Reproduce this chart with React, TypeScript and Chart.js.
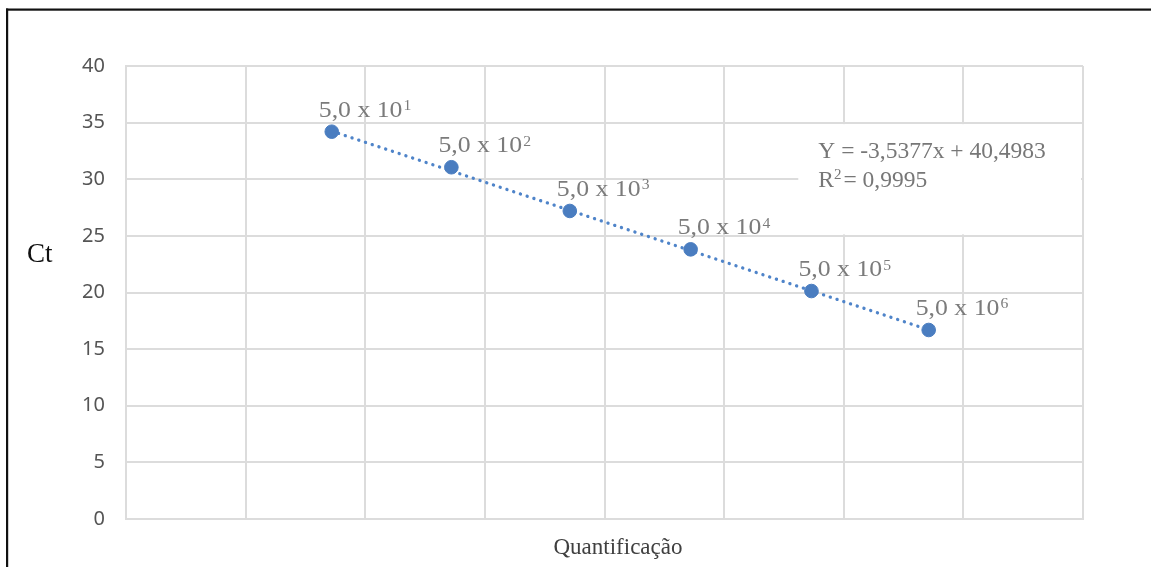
import React, { useEffect, useRef } from "react";
import { Chart, registerables } from "chart.js";

Chart.register(...registerables);

// ---- data ----
const X_VALUES = [1.72, 2.72, 3.71, 4.72, 5.73, 6.71]; // log10 of copies (position on x axis)
const CT_VALUES = [34.2, 31.06, 27.2, 23.81, 20.13, 16.69];
const LABEL_BASE = "5,0 x 10";
const LABEL_EXPONENTS = ["1", "2", "3", "4", "5", "6"];
const TREND_X = [1.72, 6.71];
const TREND_Y = [34.25, 16.7];
const Y_MIN = 0;
const Y_MAX = 40;
const Y_STEP = 5;
const X_MIN = 0;
const X_MAX = 8;
const EQUATION = "Y = -3,5377x + 40,4983";
const R2_VALUE = "0,9995";
const Y_TITLE = "Ct";
const X_TITLE = "Quantificação";

const SERIF = '"Liberation Serif", "Times New Roman", serif';
const BLUE = "#4A7DC0";
const GRID = "#dcdcdc";

const overlay = {
  id: "overlay",
  beforeDatasetsDraw(chart: any) {
    const { ctx, chartArea, scales } = chart;
    const x = scales.x;
    const y = scales.y;
    const left = x.getPixelForValue(5.62);
    const right = chartArea.right - 2;
    const top = y.getPixelForValue(35) + 1.5;
    const bottom = y.getPixelForValue(25) - 1.5;
    ctx.save();
    ctx.fillStyle = "#ffffff";
    ctx.fillRect(left, top, right - left, bottom - top);
    ctx.restore();
  },
  afterDatasetsDraw(chart: any) {
    const { ctx, scales } = chart;
    const x = scales.x;
    const y = scales.y;
    ctx.save();
    ctx.fillStyle = "#7b7b7b";
    ctx.textBaseline = "alphabetic";
    ctx.textAlign = "left";
    X_VALUES.forEach((xv, i) => {
      const px = x.getPixelForValue(xv);
      const py = y.getPixelForValue(CT_VALUES[i]);
      ctx.save();
      ctx.translate(px - 13, py - 15);
      ctx.scale(1.12, 1);
      ctx.font = `23px ${SERIF}`;
      ctx.fillText(LABEL_BASE, 0, 0);
      const w = ctx.measureText(LABEL_BASE).width;
      ctx.font = `14px ${SERIF}`;
      ctx.fillText(LABEL_EXPONENTS[i], w + 1, -6.5);
      ctx.restore();
    });

    // equation text box
    const bx = x.getPixelForValue(5.62) + 20;
    const by = y.getPixelForValue(35) + 1;
    ctx.fillStyle = "#777777";
    ctx.font = `23.5px ${SERIF}`;
    ctx.fillText(EQUATION, bx, by + 34);
    const l2 = by + 63.3;
    ctx.fillText("R", bx, l2);
    let cx = bx + ctx.measureText("R").width;
    ctx.font = `15px ${SERIF}`;
    ctx.fillText("2", cx, l2 - 8);
    cx += ctx.measureText("2").width + 2;
    ctx.font = `23.5px ${SERIF}`;
    ctx.fillText("= " + R2_VALUE, cx, l2);
    ctx.restore();
  },
  afterDraw(chart: any) {
    const { ctx, chartArea, scales } = chart;
    ctx.save();
    // axis titles
    ctx.fillStyle = "#111111";
    ctx.font = `27px ${SERIF}`;
    ctx.textAlign = "left";
    ctx.textBaseline = "alphabetic";
    ctx.fillText(Y_TITLE, 27, scales.y.getPixelForValue(22.7));
    ctx.fillStyle = "#404040";
    ctx.font = `23px ${SERIF}`;
    ctx.textAlign = "center";
    ctx.fillText(X_TITLE, (chartArea.left + chartArea.right) / 2 + 13.5, chartArea.bottom + 35);
    // outer frame (top and left edges visible)
    ctx.fillStyle = "#111111";
    ctx.fillRect(6, 8.5, chart.width - 6, 2.2);
    ctx.fillRect(6, 8.5, 2.2, chart.height - 8.5);
    ctx.restore();
  },
};

export default function App() {
  const ref = useRef<HTMLCanvasElement | null>(null);

  useEffect(() => {
    document.body.style.margin = "0";
    document.body.style.overflow = "hidden";
    const canvas = ref.current;
    if (!canvas) return;
    const chart = new Chart(canvas, {
      type: "scatter",
      data: {
        datasets: [
          {
            label: "Ct",
            data: X_VALUES.map((xv, i) => ({ x: xv, y: CT_VALUES[i] })),
            backgroundColor: BLUE,
            borderColor: BLUE,
            pointRadius: 6.8,
            pointHoverRadius: 6.8,
            showLine: false,
          },
          {
            label: "Linear",
            data: TREND_X.map((xv, i) => ({ x: xv, y: TREND_Y[i] })),
            borderColor: "#4F84C9",
            backgroundColor: "#4F84C9",
            borderWidth: 3.3,
            borderDash: [0.1, 7],
            borderCapStyle: "round",
            pointRadius: 0,
            showLine: true,
          } as any,
        ],
      },
      options: {
        responsive: false,
        animation: false,
        events: [],
        layout: { padding: { top: 66, right: 68, bottom: 48, left: 0 } },
        plugins: {
          legend: { display: false },
          tooltip: { enabled: false },
        },
        scales: {
          x: {
            type: "linear",
            min: X_MIN,
            max: X_MAX,
            ticks: { display: false, stepSize: 1 },
            grid: { color: GRID, lineWidth: 2, drawTicks: false },
            border: { color: GRID, width: 2 },
            afterFit: (s: any) => {
              s.height = 0;
            },
          },
          y: {
            min: Y_MIN,
            max: Y_MAX,
            ticks: {
              stepSize: Y_STEP,
              padding: 21,
              color: "#555555",
              font: { family: '"Noto Sans", sans-serif', size: 20 },
            },
            grid: { color: GRID, lineWidth: 2, drawTicks: false },
            border: { color: GRID, width: 2 },
            afterFit: (s: any) => {
              s.width = 126;
            },
          },
        },
      },
      plugins: [overlay],
    } as any);
    return () => chart.destroy();
  }, []);

  return (
    <canvas
      ref={ref}
      width={1151}
      height={567}
      style={{ display: "block", width: 1151, height: 567, background: "#ffffff" }}
    />
  );
}
